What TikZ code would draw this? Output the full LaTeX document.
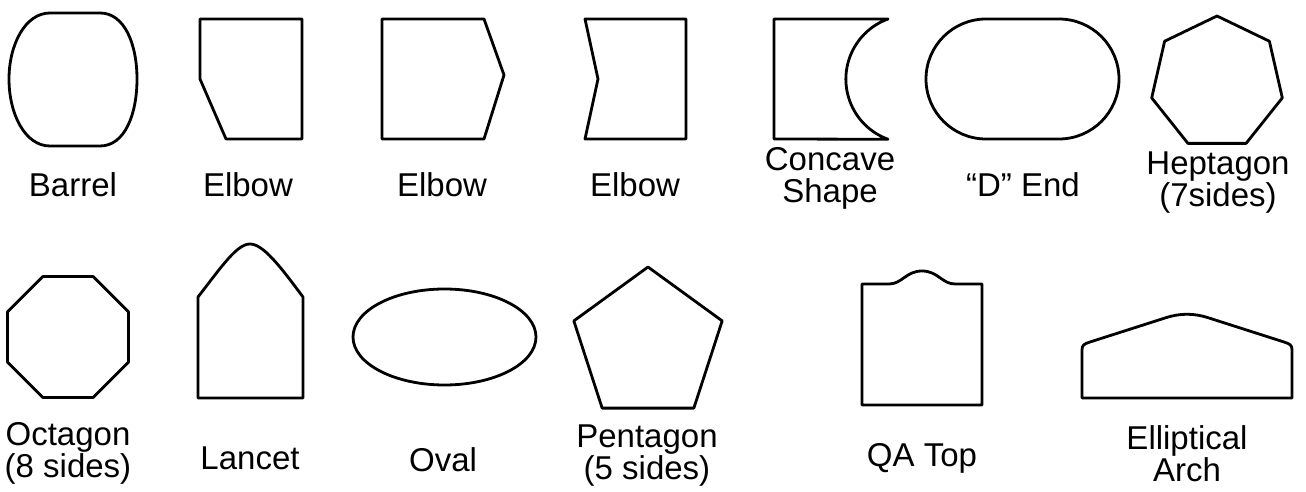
\documentclass[tikz,border=0pt]{standalone}
\usepackage{fontspec}
\setmainfont{Liberation Sans}
\usetikzlibrary{calc}
\tikzset{
  shape line/.style={black, line width=2.8pt, line join=round},
  caption/.style={font=\fontsize{33}{32}\selectfont, align=center, inner sep=0pt},
}
\NewDocumentCommand{\RegPoly}{O{(0,0)} m m m}{
    \begin{scope}[shift={#1}]
    \pgfmathtruncatemacro{\lastk}{#2-1}
    \draw[shape line] (#4:#3) \foreach \k in {1,...,\lastk} { -- ({#4+\k*360/#2}:#3) } -- cycle;
    \end{scope}
}

\begin{document}
\begin{tikzpicture}[x=1pt, y=1pt]
\useasboundingbox (0,0) rectangle (1306,492);

% top row
\draw[shape line] (50,479) -- (100,479) .. controls (125,479) and (137,447) .. (137,413)
    .. controls (137,378) and (125,346) .. (100,346) -- (50,346)
    .. controls (25,346) and (9,378) .. (9,413) .. controls (9,447) and (25,479) .. (50,479) -- cycle;
\draw[shape line] (200,473) -- (302,473) -- (302,353) -- (226,353) -- (200,413) -- cycle;
\draw[shape line] (382,473) -- (484,473) -- (504,417) -- (484,353) -- (382,353) -- cycle;
\draw[shape line] (585,473) -- (686,473) -- (686,353) -- (585,353) -- (598,413) -- cycle;
\draw[shape line] (774,473) -- (888,473) arc[start angle=110, end angle=250, radius=64]
    -- (774,353) -- cycle;
\draw[shape line] (986,473) -- (1059,473) arc[start angle=90, end angle=-90, radius=60]
    -- (986,353) arc[start angle=270, end angle=90, radius=60] -- cycle;
\RegPoly[(1217,409)]{7}{67}{90}

\node[caption] (barrel)  at (73,307)    {Barrel};
\node[caption] (elbow-a) at (248,307)   {Elbow};
\node[caption] (elbow-b) at (442,307)   {Elbow};
\node[caption] (elbow-c) at (635,307)   {Elbow};
\node[caption] (concave) at (830,313.5) {Concave\\Shape};
\node[caption] (d-end)   at (1023,307)  {“D” End};
\node[caption] (hepta)   at (1218,309.5) {Heptagon\\(7sides)};

% bottom row
\RegPoly[(68,155)]{8}{65.5}{22.5}
\draw[shape line] (198,94) -- (198,195) .. controls (222,226) and (237,248) .. (250,248)
    .. controls (263,248) and (280,226) .. (303,195) -- (303,94) -- cycle;
\draw[shape line] (444.5,155) ellipse [x radius=91.5, y radius=48];
\RegPoly[(648,147)]{5}{78}{90}
\draw[shape line] (862,87) -- (862,208) -- (889,208) .. controls (902,208) and (906,221) .. (922,221)
    .. controls (938,221) and (942,208) .. (955,208) -- (982,208) -- (982,87) -- cycle;
\draw[shape line] (1082,94) -- (1082,142) .. controls (1082,147) and (1084,148) .. (1090,150)
    -- (1165,174) .. controls (1180,179) and (1194,179) .. (1209,174)
    -- (1284,150) .. controls (1290,148) and (1292,147) .. (1292,142) -- (1292,94) -- cycle;

\node[caption] (octa)    at (68,39)   {Octagon\\(8 sides)};
\node[caption] (lancet)  at (250,34)  {Lancet};
\node[caption] (oval)    at (443,32)  {Oval};
\node[caption] (penta)   at (647,36)  {Pentagon\\(5 sides)};
\node[caption] (qa-top)  at (922,34)  {QA Top};
\node[caption] (arch)    at (1187,38) {Elliptical\\Arch};

\end{tikzpicture}
\end{document}
